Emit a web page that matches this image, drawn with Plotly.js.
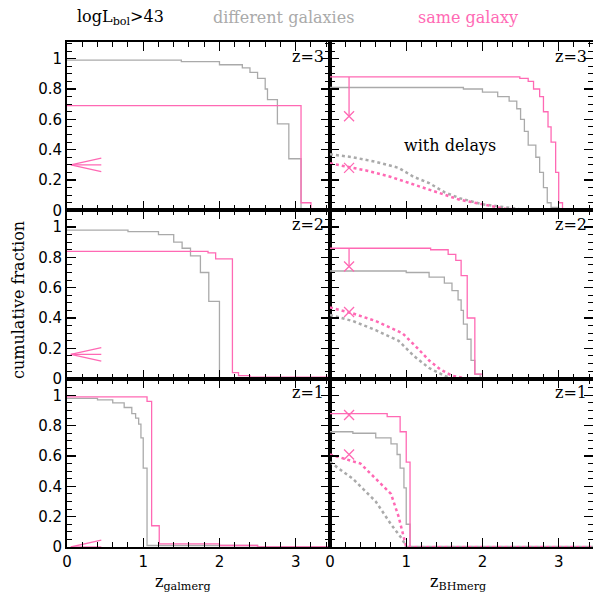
<!DOCTYPE html>
<html>
<head>
<meta charset="utf-8">
<script src="https://cdn.plot.ly/plotly-3.0.1.min.js"></script>
<style>body{margin:0;background:#fff}</style>
</head>
<body>
<div id="chart" style="width:593px;height:594px"></div>
<script>
var pink = '#ff69b4';
var grey = '#aaaaaa';

// left column: z of galaxy merger (step starts, value after step)
var gal3DiffX = [0, 1.5, 2.0, 2.3, 2.4, 2.5, 2.6, 2.63, 2.76, 2.91, 3.07, 3.45];
var gal3DiffY = [0.99, 0.98, 0.96, 0.94, 0.91, 0.87, 0.80, 0.73, 0.57, 0.34, 0, 0];
var gal3SameX = [0, 3.07, 3.2, 3.45];
var gal3SameY = [0.69, 0.05, 0, 0];
var gal2DiffX = [0, 0.8, 1.2, 1.4, 1.51, 1.62, 1.75, 1.86, 2.0, 3.45];
var gal2DiffY = [0.98, 0.97, 0.95, 0.90, 0.86, 0.81, 0.70, 0.51, 0, 0];
var gal2SameX = [0, 1.85, 1.95, 2.17, 2.25, 2.4, 3.45];
var gal2SameY = [0.84, 0.83, 0.79, 0.04, 0.02, 0.01, 0.01];
var gal1DiffX = [0, 0.4, 0.6, 0.75, 0.85, 0.9, 0.94, 0.97, 1.0, 1.05, 2.5, 3.45];
var gal1DiffY = [0.98, 0.97, 0.95, 0.92, 0.88, 0.85, 0.81, 0.72, 0.52, 0.01, 0, 0];
var gal1SameX = [0, 1.05, 1.11, 1.21, 2.0, 2.5, 3.45];
var gal1SameY = [0.99, 0.96, 0.14, 0.02, 0.01, 0, 0];
var arrowY = [0.30, 0.16, 0.0];

// right column: z of BH merger, without (solid) and with (dotted) delays
var bh3DiffX = [0, 1.75, 2.0, 2.2, 2.35, 2.45, 2.5, 2.55, 2.6, 2.7, 2.75, 2.8, 2.85, 2.9, 3.0, 3.05, 3.45];
var bh3DiffY = [0.81, 0.80, 0.78, 0.75, 0.72, 0.67, 0.60, 0.52, 0.43, 0.35, 0.25, 0.15, 0.05, 0.02, 0.01, 0, 0];
var bh3SameX = [0, 2.49, 2.6, 2.67, 2.75, 2.8, 2.86, 2.9, 2.96, 3.0, 3.05, 3.45];
var bh3SameY = [0.88, 0.87, 0.85, 0.80, 0.75, 0.65, 0.55, 0.45, 0.25, 0.05, 0, 0];
var bh3DiffDelX = [0, 0.3, 0.6, 0.9, 1.1, 1.3, 1.5, 1.7, 2.0, 2.3, 2.6, 3.45];
var bh3DiffDelY = [0.37, 0.35, 0.32, 0.28, 0.22, 0.18, 0.12, 0.08, 0.04, 0.02, 0, 0];
var bh3SameDelX = [0, 0.3, 0.5, 0.8, 1.1, 1.4, 1.7, 2.0, 2.3, 2.6, 3.45];
var bh3SameDelY = [0.31, 0.28, 0.26, 0.22, 0.17, 0.12, 0.07, 0.04, 0.01, 0, 0];
var bh2DiffX = [0, 1.0, 1.3, 1.5, 1.6, 1.68, 1.72, 1.75, 1.8, 1.85, 1.9, 1.97, 3.45];
var bh2DiffY = [0.71, 0.70, 0.67, 0.63, 0.58, 0.52, 0.45, 0.36, 0.26, 0.12, 0.03, 0, 0];
var bh2SameX = [0, 1.32, 1.55, 1.65, 1.72, 1.8, 1.9, 2.0, 3.45];
var bh2SameY = [0.86, 0.85, 0.82, 0.78, 0.68, 0.40, 0.03, 0, 0];
var bh2DiffDelX = [0, 0.3, 0.6, 0.9, 1.1, 1.3, 1.5, 1.6, 3.45];
var bh2DiffDelY = [0.42, 0.38, 0.32, 0.25, 0.15, 0.07, 0.02, 0, 0];
var bh2SameDelX = [0, 0.3, 0.6, 0.95, 1.15, 1.3, 1.45, 1.6, 1.8, 3.45];
var bh2SameDelY = [0.47, 0.43, 0.38, 0.30, 0.20, 0.12, 0.06, 0.02, 0, 0];
var bh1DiffX = [0, 0.3, 0.6, 0.8, 0.88, 0.92, 0.97, 1.0, 1.05, 3.45];
var bh1DiffY = [0.76, 0.75, 0.72, 0.68, 0.61, 0.52, 0.39, 0.15, 0, 0];
var bh1SameX = [0, 0.75, 0.92, 1.0, 1.05, 3.45];
var bh1SameY = [0.88, 0.86, 0.76, 0.56, 0, 0];
var bh1DiffDelX = [0, 0.3, 0.6, 0.8, 0.95, 1.0, 3.45];
var bh1DiffDelY = [0.56, 0.45, 0.30, 0.15, 0.05, 0, 0];
var bh1SameDelX = [0, 0.4, 0.6, 0.8, 0.9, 0.95, 1.0, 3.45];
var bh1SameDelY = [0.61, 0.55, 0.45, 0.35, 0.20, 0.10, 0, 0];
// delay markers (x crosses) at z=0.25
var markX = 0.25;
var markTop = [0.88, 0.86, 0.87];
var markSolid = [0.62, 0.74, 0.87];
var markDotted = [0.28, 0.44, 0.61];
var redshifts = ['z=3', 'z=2', 'z=1'];

var traces = [];
function step(x, y, xa, ya, color, dash) {
  traces.push({x: x, y: y, xaxis: xa, yaxis: ya, mode: 'lines', showlegend: false,
    line: {shape: dash ? 'linear' : 'hv', color: color, width: dash ? 2.5 : 1.3, dash: dash || 'solid'}});
}
var left = [[gal3DiffX, gal3DiffY, gal3SameX, gal3SameY], [gal2DiffX, gal2DiffY, gal2SameX, gal2SameY], [gal1DiffX, gal1DiffY, gal1SameX, gal1SameY]];
var right = [
  [bh3DiffX, bh3DiffY, bh3SameX, bh3SameY, bh3DiffDelX, bh3DiffDelY, bh3SameDelX, bh3SameDelY],
  [bh2DiffX, bh2DiffY, bh2SameX, bh2SameY, bh2DiffDelX, bh2DiffDelY, bh2SameDelX, bh2SameDelY],
  [bh1DiffX, bh1DiffY, bh1SameX, bh1SameY, bh1DiffDelX, bh1DiffDelY, bh1SameDelX, bh1SameDelY]];

var layout = {width: 593, height: 594, margin: {l: 67, r: 0, t: 42, b: 47},
  paper_bgcolor: '#fff', plot_bgcolor: '#fff', font: {family: 'DejaVu Sans', size: 15, color: '#000'},
  annotations: [], showlegend: false};

function axisBase(isX, showLabels) {
  return {showgrid: false, zeroline: false, showline: true, linecolor: '#000', linewidth: 2, mirror: 'allticks',
    ticks: 'inside', ticklen: 9, tickwidth: 1.2, tickcolor: '#000', showticklabels: showLabels,
    tickfont: {family: 'DejaVu Sans', size: 15},
    minor: {ticks: 'inside', ticklen: 5, tickwidth: 1, tickcolor: '#000', dtick: isX ? 0.2 : 0.05},
    dtick: isX ? 1 : 0.2, tick0: 0, range: isX ? [0, 3.45] : [0, 1.11], fixedrange: true};
}

for (var r = 0; r < 3; r++) {
  var ydom = [1 - (r + 1) / 3, 1 - r / 3];
  for (var c = 0; c < 2; c++) {
    var n = r * 2 + c + 1;
    var xa = 'x' + n, ya = 'y' + n;
    var xk = 'xaxis' + n, yk = 'yaxis' + n;
    var ax = axisBase(true, r === 2);
    ax.domain = c === 0 ? [0, 0.5] : [0.5, 1];
    ax.anchor = ya;
    var ay = axisBase(false, c === 0);
    ay.domain = ydom;
    ay.anchor = xa;
    if (c === 0) ay.tickvals = [0, 0.2, 0.4, 0.6, 0.8, 1];
    layout[xk] = ax; layout[yk] = ay;
    if (c === 0) {
      var d = left[r];
      step(d[0], d[1], xa, ya, grey);
      step(d[2], d[3], xa, ya, pink);
      traces.push({x: [0.45, 0.05, 0.45], y: [arrowY[r] + 0.045, arrowY[r], arrowY[r] - 0.045], xaxis: xa, yaxis: ya,
        mode: 'lines', line: {color: pink, width: 1.3}, showlegend: false, cliponaxis: false});
      traces.push({x: [0.05, 0.45], y: [arrowY[r], arrowY[r]], xaxis: xa, yaxis: ya,
        mode: 'lines', line: {color: pink, width: 1.3}, showlegend: false});
    } else {
      var e = right[r];
      step(e[0], e[1], xa, ya, grey);
      step(e[2], e[3], xa, ya, pink);
      step(e[4], e[5], xa, ya, grey, 'dot');
      step(e[6], e[7], xa, ya, pink, 'dot');
      traces.push({x: [markX, markX], y: [markTop[r], markSolid[r]], xaxis: xa, yaxis: ya, mode: 'lines',
        line: {color: pink, width: 1.3}, showlegend: false});
      traces.push({x: [markX, markX], y: [markSolid[r], markDotted[r]], xaxis: xa, yaxis: ya, mode: 'markers',
        marker: {symbol: 'x-thin-open', size: 10, color: pink, line: {color: pink, width: 1.3}}, showlegend: false});
    }
    layout.annotations.push({xref: xa + ' domain', yref: ya + ' domain', x: 0.985, y: 0.985,
      xanchor: 'right', yanchor: 'top', showarrow: false, text: redshifts[r],
      font: {family: 'DejaVu Serif', size: 16}});
  }
}
function paperText(px, py, text, color, angle) {
  layout.annotations.push({xref: 'paper', yref: 'paper', x: (px - 67) / 526, y: (594 - 47 - py) / 505,
    xanchor: 'center', yanchor: 'middle', text: text, showarrow: false, textangle: angle || 0,
    font: {family: 'DejaVu Serif', size: 16, color: color || '#000'}});
}
layout.annotations.push({xref: 'x2', yref: 'y2', x: 1.57, y: 0.43, text: 'with delays', showarrow: false,
  xanchor: 'center', font: {family: 'DejaVu Serif', size: 16}});
paperText(120, 18, 'logL<sub>bol</sub>>43');
paperText(283, 18, 'different galaxies', grey);
paperText(468, 18, 'same galaxy', pink);
paperText(183, 582, 'z<sub>galmerg</sub>');
paperText(458, 582, 'z<sub>BHmerg</sub>');
paperText(18, 300, 'cumulative fraction', '#000', -90);

Plotly.newPlot('chart', traces, layout, {staticPlot: true});
</script>
</body>
</html>
